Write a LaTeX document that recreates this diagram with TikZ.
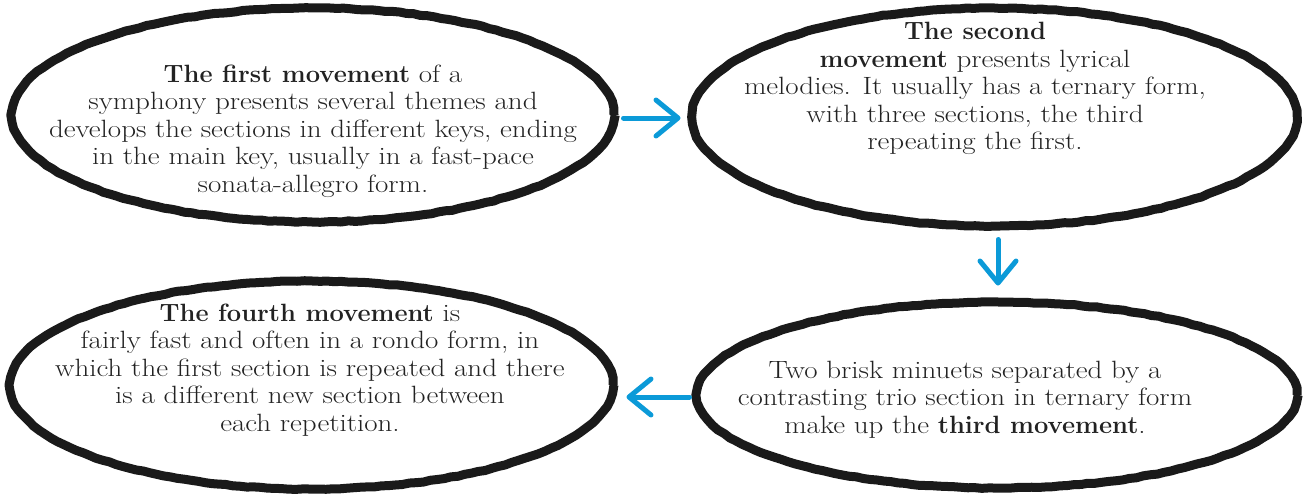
\documentclass[tikz,border=0pt]{standalone}
\usepackage{fontspec}
\setmainfont{Latin Modern Roman}[UprightFeatures={FakeStretch=1.16},BoldFeatures={FakeStretch=1.02}]
\usetikzlibrary{shapes.geometric,arrows.meta,decorations.pathmorphing}
\definecolor{ink}{HTML}{1A1A1A}
\definecolor{txt}{HTML}{222222}
\definecolor{arrblue}{HTML}{0B9AD8}
\begin{document}
\begin{tikzpicture}[x=1pt,y=-1pt,
  blob/.style={ellipse, draw=ink, line width=9pt, line join=round, inner sep=0pt,
    decorate, decoration={random steps, segment length=7pt, amplitude=0.45pt}},
  label/.style={align=center, text=txt, inner sep=0pt, font=\fontsize{25}{27.5}\selectfont},
  arr/.style={draw=arrblue, line width=5pt, line cap=round,
    -{Straight Barb[length=22pt,width=36pt,round]}}]
\useasboundingbox (0,0) rectangle (1306,496);
\pgfmathsetseed{7}
\node[blob, minimum width=602pt, minimum height=214pt] (e1) at (313,115) {};
\node[blob, minimum width=605pt, minimum height=218pt] (e2) at (994.5,117) {};
\node[blob, minimum width=600pt, minimum height=186pt] (e3) at (997,395) {};
\node[blob, minimum width=603pt, minimum height=208pt] (e4) at (311.5,385) {};

\node[label] (t1) at (313,131) {\textbf{The first movement} of a\\symphony presents several themes and\\develops the sections in different keys, ending\\in the main key, usually in a fast-pace\\sonata-allegro form.};
\node[label] (t2) at (975,88.5) {\textbf{The second}\\\textbf{movement} presents lyrical\\melodies. It usually has a ternary form,\\with three sections, the third\\repeating the first.};
\node[label] (t3) at (965,399.5) {Two brisk minuets separated by a\\contrasting trio section in ternary form\\make up the \textbf{third movement}.};
\node[label] (t4) at (310,370) {\textbf{The fourth movement} is\\fairly fast and often in a rondo form, in\\which the first section is repeated and there\\is a different new section between\\each repetition.};

\draw[arr] ([xshift=5pt,yshift=-3pt]e1.east) -- ([xshift=-7pt,yshift=-1pt]e2.west);
\draw[arr] ([xshift=3.5pt,yshift=-9pt]e2.south) -- ([xshift=1pt,yshift=12pt]e3.north);
\draw[arr] ([xshift=-3pt,yshift=-2pt]e3.west) -- ([xshift=9pt,yshift=-12pt]e4.east);
\end{tikzpicture}
\end{document}
